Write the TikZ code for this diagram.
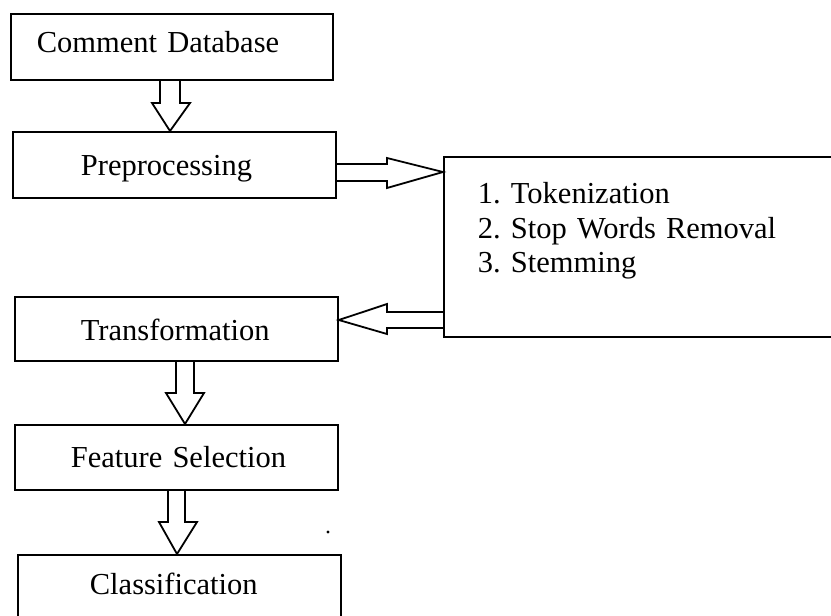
\documentclass[tikz,border=0pt]{standalone}
\usepackage{fontspec}
\setmainfont{Liberation Serif}
\usetikzlibrary{calc}
\tikzset{
  stage/.style={draw, line width=1.8pt, rectangle, anchor=north west, inner sep=0pt,
    align=left, font=\fontsize{30.5}{34.5}\selectfont\frenchspacing},
  indent/.style={execute at begin node={\leftskip=#1\relax}},
  harrow/.style={draw, line width=1.8pt, line join=miter}
}
\begin{document}
\begin{tikzpicture}[x=1pt,y=-1pt]
\useasboundingbox (0,0) rectangle (831,616);
\fill[white] (0,0) rectangle (831,616);
\clip (0,0) rectangle (831,616);

\node[stage, indent=26pt, text width=322pt, text height=39pt, text depth=27pt] (cd) at (10,13) {Comment Database};
\node[stage, indent=68pt, text width=323pt, text height=44pt, text depth=22pt] (pp) at (12,131) {Preprocessing};
\node[stage, indent=34pt, text width=500pt, text height=47pt, text depth=133pt] (rb) at (443,156) {1. Tokenization\\2. Stop Words Removal\\3. Stemming};
\node[stage, indent=66pt, text width=323pt, text height=44pt, text depth=20pt] (tr) at (14,296) {Transformation};
\node[stage, indent=56pt, text width=323pt, text height=43pt, text depth=22pt] (fs) at (14,424) {Feature Selection};
\node[stage, indent=72pt, text width=323pt, text height=40pt, text depth=56pt] (cl) at (17,554) {Classification};

% block arrows
\draw[harrow] (160,0 |- cd.south) -- (160,103) -- (152,103) -- (170,0 |- pp.north) -- (190,103) -- (180,103) -- (180,0 |- cd.south);
\draw[harrow] (pp.east |- 0,164) -- (387,164) -- (387,158) -- (rb.west |- 0,172) -- (387,188) -- (387,181) -- (pp.east |- 0,181);
\draw[harrow] (rb.west |- 0,312) -- (387,312) -- (387,304) -- (tr.east |- 0,320) -- (387,334) -- (387,328) -- (rb.west |- 0,328);
\draw[harrow] (176,0 |- tr.south) -- (176,393) -- (166,393) -- (185,0 |- fs.north) -- (204,393) -- (194,393) -- (194,0 |- tr.south);
\draw[harrow] (168,0 |- fs.south) -- (168,522) -- (159,522) -- (177,0 |- cl.north) -- (197,522) -- (185,522) -- (185,0 |- fs.south);

\fill (328,532) circle (1.6);
\end{tikzpicture}
\end{document}
